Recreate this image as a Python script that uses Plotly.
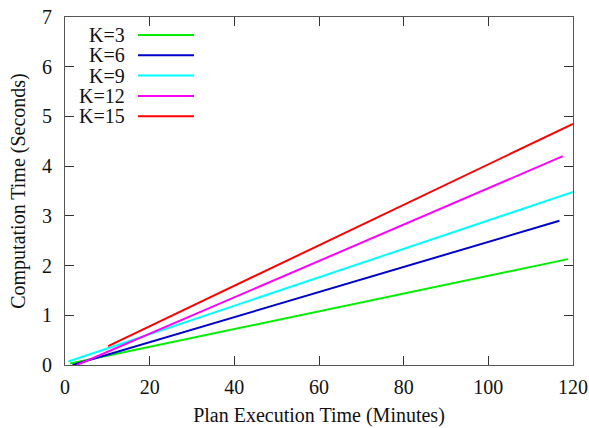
import plotly.graph_objects as go

# Plan execution time (minutes) vs computation time (seconds), one series per K
labels = ["K=3", "K=6", "K=9", "K=12", "K=15"]
colors = ["#00ee00", "#0000cc", "#00ffff", "#ff00ff", "#ff0000"]
x_start = [1.2, 1.8, 0.8, 2.8, 10.2]
x_end = [118.8, 116.8, 120.0, 117.6, 120.0]
y_start = [0.03, 0.0, 0.07, 0.0, 0.38]
y_end = [2.13, 2.90, 3.48, 4.20, 4.85]

x_ticks = [0, 20, 40, 60, 80, 100, 120]
y_ticks = [0, 1, 2, 3, 4, 5, 6, 7]

FONT = "Liberation Serif"
FS = 20
W, H = 589, 428
L, R, T, B = 65, 16, 17, 63

fig = go.Figure()
for lab, col, x0, x1, y0, y1 in zip(labels, colors, x_start, x_end, y_start, y_end):
    fig.add_trace(go.Scatter(x=[x0, x1], y=[y0, y1], mode="lines", name=lab,
                             line=dict(color=col, width=2), showlegend=False))

# gnuplot-style key: label right-aligned, line sample to its right
for i, (lab, col) in enumerate(zip(labels, colors)):
    yp = 1 - (18 + 20.3 * i) / (H - T - B)
    fig.add_annotation(xref="paper", yref="paper", x=(127 - L) / (W - L - R), y=yp,
                       text=lab, showarrow=False, xanchor="right", yanchor="middle",
                       font=dict(family=FONT, size=FS, color="#111"))
    fig.add_shape(type="line", xref="paper", yref="paper",
                  x0=(138 - L) / (W - L - R), x1=(194 - L) / (W - L - R), y0=yp, y1=yp,
                  line=dict(color=col, width=2))

axis_common = dict(showgrid=False, zeroline=False, showline=True, linecolor="#555",
                   linewidth=1, mirror="ticks", ticks="inside", ticklen=9,
                   tickcolor="#333", tickwidth=1, automargin=False,
                   tickfont=dict(family=FONT, size=FS, color="#111"))

fig.update_xaxes(range=[0, 120], tickvals=x_ticks, ticklabelstandoff=4, **axis_common,
                 title=dict(text="Plan Execution Time (Minutes)", standoff=10,
                            font=dict(family=FONT, size=FS, color="#111")))
fig.update_yaxes(range=[0, 7], tickvals=y_ticks, ticklabelstandoff=8, **axis_common,
                 title=dict(text="Computation Time (Seconds)", standoff=11,
                            font=dict(family=FONT, size=FS, color="#111")))

fig.update_layout(width=W, height=H, margin=dict(l=L, r=R, t=T, b=B),
                  paper_bgcolor="white", plot_bgcolor="white", showlegend=False)

fig.write_html("out.html")
